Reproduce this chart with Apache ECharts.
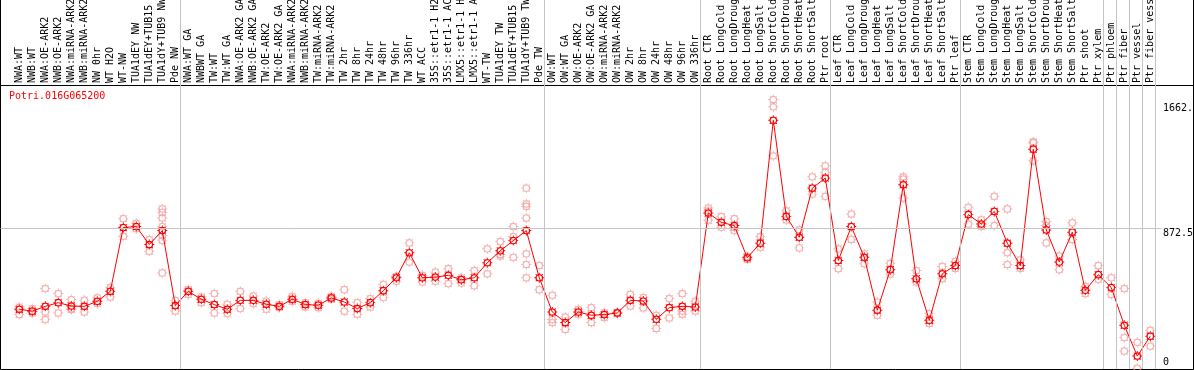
<!DOCTYPE html>
<html><head><meta charset="utf-8">
<script src="https://cdn.jsdelivr.net/npm/echarts@6/dist/echarts.min.js"></script>
<style>html,body{margin:0;padding:0;background:#fff}#c{width:1194px;height:370px}</style>
</head><body><div id="c"></div>
<script>
const geneId = 'Potri.016G065200';
const categories = [
  'NWA:WT','NWB:WT','NWA:OE-ARK2','NWB:OE-ARK2','NWA:miRNA-ARK2','NWB:miRNA-ARK2','NW 0hr','WT H2O','WT-NW','TUA1dEY NW','TUA1dEY+TUB15 NW','TUA1dY+TUB9 NW','Pde NW',
  'NWA:WT GA','NWBWT GA','TW:WT','TW:WT GA','NWA:OE-ARK2 GA','NWB:OE-ARK2 GA','TW:OE-ARK2','TW:OE-ARK2 GA','NWA:miRNA-ARK2 GA','NWB:miRNA-ARK2 GA','TW:miRNA-ARK2','TW:miRNA-ARK2 GA','TW 2hr','TW 8hr','TW 24hr','TW 48hr','TW 96hr','TW 336hr','WT ACC','35S::etr1-1 H2O','35S::etr1-1 ACC','LMX5::etr1-1 H2O','LMX5::etr1-1 ACC','WT-TW','TUA1dEY TW','TUA1dEY+TUB15 TW','TUA1dY+TUB9 TW','Pde TW',
  'OW:WT','OW:WT GA','OW:OE-ARK2','OW:OE-ARK2 GA','OW:miRNA-ARK2','OW:miRNA-ARK2 GA','OW 2hr','OW 8hr','OW 24hr','OW 48hr','OW 96hr','OW 336hr',
  'Root CTR','Root LongCold','Root LongDrought','Root LongHeat','Root LongSalt','Root ShortCold','Root ShortDrought','Root ShortHeat','Root ShortSalt','Ptr root',
  'Leaf CTR','Leaf LongCold','Leaf LongDrought','Leaf LongHeat','Leaf LongSalt','Leaf ShortCold','Leaf ShortDrought','Leaf ShortHeat','Leaf ShortSalt','Ptr leaf',
  'Stem CTR','Stem LongCold','Stem LongDrought','Stem LongHeat','Stem LongSalt','Stem ShortCold','Stem ShortDrought','Stem ShortHeat','Stem ShortSalt','Ptr shoot','Ptr xylem',
  'Ptr phloem','Ptr fiber','Ptr vessel','Ptr fiber vessel'
];
const groupSizes = [13, 28, 12, 10, 10, 11, 1, 1, 1, 1];
const means = [
  370,358,388,411,390,388,419,481,876,882,771,857,393,
  481,432,399,370,425,425,401,388,432,399,395,440,415,374,411,485,565,720,565,569,580,553,565,658,732,795,857,565,
  353,288,353,333,337,347,425,421,308,380,388,384,
  966,908,888,689,779,1540,945,816,1120,1182,
  672,882,692,364,615,1141,559,302,590,641,
  956,898,976,779,641,1361,861,662,847,487,584,
  504,271,80,203
];
const replicates = [
  [384,337],[374,347],[498,353,306],[467,347],[430,373,368],[425,353],[440,405],[504,446],[931,822],[902,868],[802,729],[991,970,935,882,826,795,595],[425,359],
  [491,462],[446,411],[467,347],[401,343],[481,374],[452,405],[421,370],[399,380],[450,419],[411,384],[380,407],[450,432],[491,358],[411,339],[436,384],[524,442],[573,544],[781,662],[580,538],[600,544],[621,529],[565,532],[610,516],[744,590],[789,709,699],[882,820,692],[1120,1022,1007,935,713,647,565],[641,491],
  [456,306,288],[322,245],[370,339],[380,288],[347,319],[351,343],[462,390],[442,378],[333,251],[436,316],[467,359,339],[419,359],
  [997,980,921],[943,877],[931,877,857],[697,678],[820,754],[1669,1624,1320],[980,923],[861,750],[1190,1083],[1258,1217,1069],
  [744,621],[960,802],[713,652],[415,333],[655,586],[1190,1176,1059],[610,538],[343,282],[635,559],[666,623],
  [1001,898],[923,882],[1069,888],[991,720,647],[676,623],[1406,1400,1289],[913,888,781],[699,615],[905,802],[512,467],[641,555],
  [565,462],[498,195,111],[165,4],[240,142]
];
const yTickValues = [0, 872.55, 1662];
const yTickLabels = ['0', '872.5', '1662.'];

const FONT = '"DejaVu Sans Mono", monospace';
const N = categories.length;
const boundaries = [0];
groupSizes.forEach(s => boundaries.push(boundaries[boundaries.length - 1] + s));
let maxRep = 0;
replicates.forEach(r => r.forEach(v => { if (v > maxRep) maxRep = v; }));
const yMax = Math.max(maxRep, ...means) * 1.05;
const scatterData = [];
replicates.forEach((r, i) => r.forEach(v => scatterData.push([i, v])));

// ring marker with small tick spikes (like the original plotting glyph)
const RING = 'path://M0,-4A4,4,0,1,1,0,4A4,4,0,1,1,0,-4Z' +
  'M0,-2.7A2.7,2.7,0,1,0,0,2.7A2.7,2.7,0,1,0,0,-2.7Z' +
  'M-0.5,-5.2H0.5V-3.6H-0.5Z' + 'M-0.5,3.6H0.5V5.2H-0.5Z' +
  'M-5.2,-0.5H-3.6V0.5H-5.2Z' + 'M3.6,-0.5H5.2V0.5H3.6Z' +
  'M2.9,2.9H3.8V3.8H2.9Z' + 'M-3.8,2.9H-2.9V3.8H-3.8Z' +
  'M2.9,-3.8H3.8V-2.9H2.9Z' + 'M-3.8,-3.8H-2.9V-2.9H-3.8Z';

const chart = echarts.init(document.getElementById('c'), null, {renderer: 'canvas'});
chart.setOption({
  animation: false,
  backgroundColor: '#fff',
  title: {
    text: geneId, left: 9, top: 91, padding: 0,
    textStyle: {color: '#ff0000', fontFamily: FONT, fontSize: 10, fontWeight: 'normal'}
  },
  grid: [
    {left: 12.8, top: 86, width: 1144, height: 283, outerBoundsMode: 'none', containLabel: false},
    {left: 0.5, top: -20.5, width: 1193, height: 106, show: true, borderColor: '#000', borderWidth: 1, backgroundColor: 'transparent', outerBoundsMode: 'none'},
    {left: 0.5, top: 85.5, width: 1193, height: 284, show: true, borderColor: '#000', borderWidth: 1, backgroundColor: 'transparent', outerBoundsMode: 'none'},
    {left: 12.8, top: 0, width: 1144, height: 369, outerBoundsMode: 'none'},
    {left: 0.5, top: 86, width: 1161, height: 283, outerBoundsMode: 'none', containLabel: false}
  ],
  xAxis: [
    {type: 'category', gridIndex: 0, data: categories, position: 'top', boundaryGap: true,
     axisLine: {show: false}, axisTick: {show: false}, splitLine: {show: false},
     axisLabel: {interval: 0, rotate: 90, margin: 3,
       fontFamily: FONT, fontSize: 10, color: '#000', hideOverlap: false}},
    {type: 'value', gridIndex: 3, min: 0.1, max: N + 0.1, show: false},
    {type: 'value', gridIndex: 4, min: 0, max: 1, show: false}
  ],
  yAxis: [
    {type: 'value', gridIndex: 0, min: 0, max: yMax, show: false},
    {type: 'value', gridIndex: 3, min: 0, max: 1, show: false},
    {type: 'value', gridIndex: 4, min: 0, max: yMax, position: 'right',
     axisLine: {show: false}, axisTick: {show: false}, splitLine: {show: false},
     axisLabel: {
       customValues: yTickValues, margin: 1.5, align: 'left', color: '#000', fontFamily: FONT, fontSize: 10,
       formatter: function (v) {
         const i = yTickValues.indexOf(v);
         const t = i >= 0 ? yTickLabels[i] : '';
         if (i === 0) return '{b|' + t + '}';
         if (i === 1) return '{m|' + t + '}';
         return '{t|' + t + '}';
       },
       rich: {
         b: {fontFamily: FONT, fontSize: 10, color: '#000', padding: [0, 0, 14, 0]},
         m: {fontFamily: FONT, fontSize: 10, color: '#000', padding: [10, 0, 0, 0]},
         t: {fontFamily: FONT, fontSize: 10, color: '#000', padding: [16, 0, 0, 0]}
       }
     }}
  ],
  series: [
    {type: 'line', xAxisIndex: 1, yAxisIndex: 1, data: [], z: 1, silent: true,
     markLine: {silent: true, symbol: 'none', animation: false, label: {show: false},
       lineStyle: {color: '#c4c4c4', width: 1, type: 'solid'},
       data: boundaries.map(b => ({xAxis: b}))}},
    {type: 'line', xAxisIndex: 2, yAxisIndex: 2, data: [], z: 1, silent: true,
     markLine: {silent: true, symbol: 'none', animation: false, label: {show: false},
       lineStyle: {color: '#c4c4c4', width: 1, type: 'solid'},
       data: [{yAxis: yTickValues[1]}]}},
    {type: 'scatter', xAxisIndex: 0, yAxisIndex: 0, data: scatterData, z: 2, silent: true,
     symbol: RING, symbolSize: 10,
     itemStyle: {color: '#f0a0a0', borderWidth: 0}},
    {type: 'line', xAxisIndex: 0, yAxisIndex: 0, data: means, z: 3, silent: true,
     symbol: RING, symbolSize: 10, showAllSymbol: true,
     lineStyle: {color: '#ff0000', width: 1},
     itemStyle: {color: '#ff0000', borderWidth: 0}}
  ]
});
</script>
</body></html>
